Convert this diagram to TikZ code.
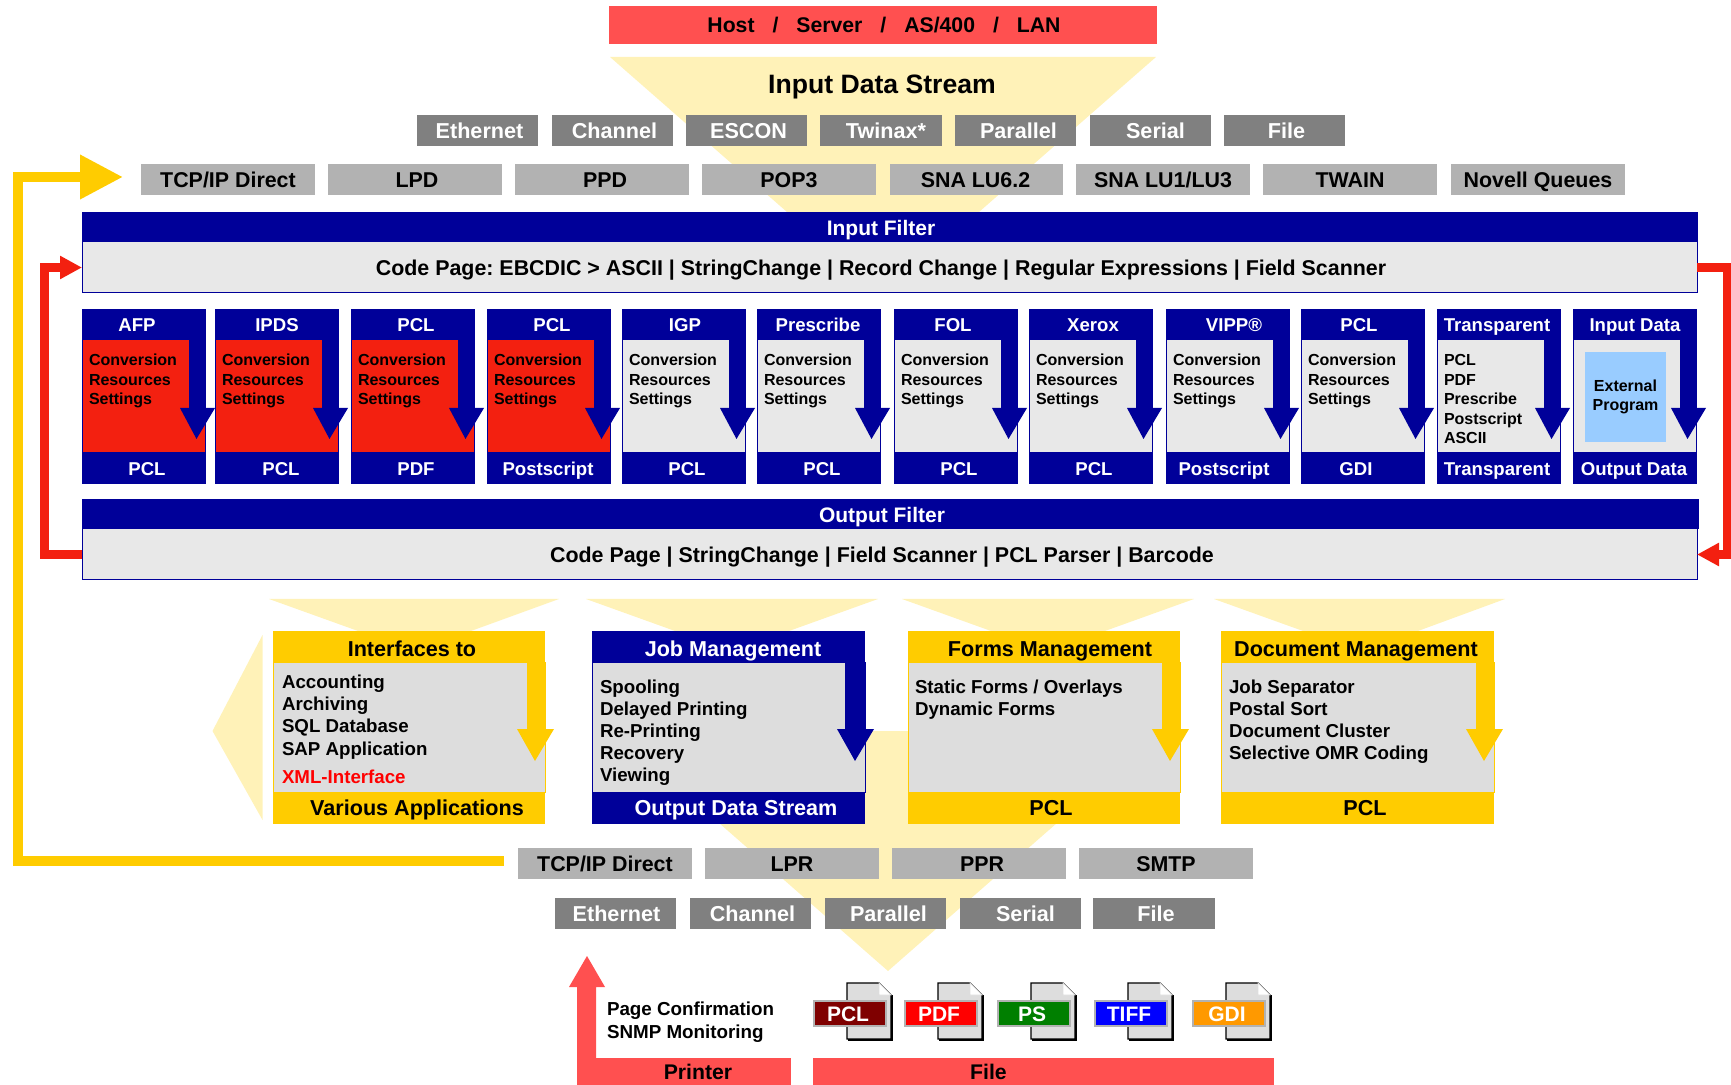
\documentclass[tikz,border=0pt]{standalone}
\usepackage{fontspec}
\setmainfont{Liberation Sans}
\usetikzlibrary{arrows.meta}
\frenchspacing
\definecolor{hostred}{HTML}{FF5050}
\definecolor{pale}{HTML}{FFF2B8}
\definecolor{dgrey}{HTML}{808080}
\definecolor{lgrey}{HTML}{B2B2B2}
\definecolor{navy}{HTML}{000099}
\definecolor{sun}{HTML}{FFCC00}
\definecolor{brick}{HTML}{F32010}
\definecolor{bodyg}{HTML}{E8E8E8}
\definecolor{cardg}{HTML}{DDDDDD}
\definecolor{sky}{HTML}{99CCFF}
\definecolor{icred}{HTML}{7F0000}
\definecolor{icgreen}{HTML}{007F00}
\definecolor{icorange}{HTML}{FF9900}
\newcommand\fsz[1]{\fontsize{#1}{#1}\selectfont\bfseries}
\newcommand\lead[2]{\fontsize{#1}{#2}\selectfont\bfseries}
% name x1 y1 x2 y2 style text
\newcommand\bx[7]{%
  \pgfmathsetlengthmacro\bw{(#4-#2)*0.5pt}%
  \pgfmathsetlengthmacro\bh{(#5-#3)*0.5pt}%
  \node[#6,minimum width=\bw,minimum height=\bh] (#1) at ({(#2+#4)/2},{(#3+#5)/2}) {#7};}
% id x1 titlecx title footcx foot bodycolor text
\newcommand\card[8]{%
  \bx{#1-top}{#2}{309}{#2+124}{340}{fill=navy}{}
  \bx{#1-foot}{#2}{453}{#2+124}{484}{fill=navy}{}
  \bx{#1-body}{#2+0.5}{340}{#2+122.5}{453}{fill=#7,draw=navy,line width=.5pt}{}
  \fill[navy] (#2+107,340) rectangle (#2+124,408);
  \fill[navy] (#2+98,408) -- (#2+133,408) -- (#2+114.5,439) -- cycle;
  \node[cardhead] (#1-title) at (#3,325) {#4};
  \node[cardhead] (#1-out) at (#5,468.5) {#6};
  \node[cardtext] (#1-text) at (#2+7,381) {#8};}
% id x1 x2 colour textcolour title cx foot cx
\newcommand\bcard[9]{%
  \bx{#1-top}{#2}{631}{#3}{663}{fill=#4}{}
  \bx{#1-foot}{#2}{792}{#3}{824}{fill=#4}{}
  \bx{#1-body}{#2+0.5}{663}{#3-0.5}{792}{fill=cardg,draw=#4,line width=.5pt}{}
  \fill[#4] (#3-18,663) rectangle (#3,729);
  \fill[#4] (#3-28,729) -- (#3+9,729) -- (#3-10,761) -- cycle;
  \node[bigtitle,text=#5] (#1-title) at (#7,649) {#6};
  \node[bigtitle,text=#5] (#1-out) at (#9,808) {#8};}
% id labelx colour text
\newcommand\docicon[4]{%
  \filldraw[fill=cardg,draw=black,line width=.6pt] (#2+33,983) -- (#2+65,983) -- (#2+77,995) -- (#2+77,1039) -- (#2+33,1039) -- cycle;
  \draw[black,line width=1.2pt] (#2+78,995) -- (#2+78,1040) -- (#2+34,1040);
  \filldraw[fill=white,draw=cardg,line width=.3pt] (#2+65,983) -- (#2+77,995) -- (#2+65,995) -- cycle;
  \bx{#1}{#2+1}{1001}{#2+71}{1026}{fill=#3,draw=lgrey,line width=1pt,text=white,font=\fsz{10.5},text height=7.5pt,text depth=0pt}{\hspace{-2pt}#4}}
\tikzset{
  every node/.style={inner sep=0pt,outer sep=0pt},
  dark/.style={fill=dgrey,text=white,font=\fsz{10.8},text height=7.7pt,text depth=0pt},
  light/.style={fill=lgrey,text=black,font=\fsz{10.7},text height=7.7pt,text depth=0pt},
  flowbody/.style={fill=bodyg,draw=navy,line width=.5pt},
  bandtext/.style={text=white,font=\fsz{10.5},text height=7.5pt,text depth=0pt},
  mainline/.style={text=black,font=\fsz{10.7},text height=7.7pt,text depth=0pt},
  cardhead/.style={text=white,font=\fsz{9.3},text height=6.7pt,text depth=0pt},
  cardtext/.style={anchor=west,align=left,text=black,font=\lead{8}{9.8}},
  bigtitle/.style={font=\fsz{10.8},text height=7.8pt,text depth=0pt},
  biglist/.style={anchor=west,align=left,text=black,font=\lead{9.35}{11}},
  redbar/.style={fill=hostred,text=black,font=\fsz{10.6},text height=7.6pt,text depth=0pt},
  yellowflow/.style={draw=sun,line width=5pt,-{Triangle[length=21.5pt,width=21pt]},shorten >=9pt,shorten <=7pt},
  redflow/.style={draw=brick,line width=4.2pt,-{Triangle[length=11pt,width=11pt]}},
}
\begin{document}
\begin{tikzpicture}[x=.5pt,y=-.5pt]
\useasboundingbox (0,0) rectangle (1731,1085);
% pale funnels
\fill[pale] (610,57) -- (1156,57) -- (979,212) -- (787,212) -- cycle;
\fill[pale] (269,599) -- (559,599) -- (471,631) -- (358,631) -- cycle;
\fill[pale] (586,599) -- (878,599) -- (789,631) -- (675,631) -- cycle;
\fill[pale] (902,599) -- (1194,599) -- (1105,631) -- (991,631) -- cycle;
\fill[pale] (1214,599) -- (1505,599) -- (1418,631) -- (1303,631) -- cycle;
\fill[pale] (212.5,731) -- (262.5,635) -- (262.5,820) -- cycle;
\fill[pale] (614,731) -- (1162,731) -- (888,971) -- cycle;
% host
\bx{host}{609}{6}{1157}{44}{redbar}{\hspace{1pt}Host\hspace{9pt}/\hspace{9pt}Server\hspace{9pt}/\hspace{9pt}AS/400\hspace{9pt}/\hspace{9pt}LAN}
\node[text=black,font=\fsz{13.3},text height=9.6pt,text depth=0pt] (instream) at (882,84) {Input Data Stream};
% row 1
\bx{eth1}{417}{115}{538}{146}{dark}{\hspace{2pt}Ethernet}
\bx{cha1}{552}{115}{673}{146}{dark}{\hspace{2pt}Channel}
\bx{esc1}{686}{115}{807}{146}{dark}{\hspace{2pt}ESCON}
\bx{twx1}{820}{115}{942}{146}{dark}{\hspace{5pt}Twinax*}
\bx{par1}{955}{115}{1076}{146}{dark}{\hspace{3pt}Parallel}
\bx{ser1}{1090}{115}{1211}{146}{dark}{\hspace{5pt}Serial}
\bx{fil1}{1224}{115}{1345}{146}{dark}{\hspace{2pt}File}
% row 2
\bx{tcpin}{141}{164}{315}{195}{light}{TCP/IP Direct}
\bx{lpd}{328}{164}{502}{195}{light}{\hspace{2pt}LPD}
\bx{ppd}{515}{164}{689}{195}{light}{\hspace{3pt}PPD}
\bx{pop}{702}{164}{876}{195}{light}{POP3}
\bx{sna6}{890}{164}{1063}{195}{light}{\hspace{-1pt}SNA LU6.2}
\bx{sna1}{1076}{164}{1250}{195}{light}{SNA LU1/LU3}
\bx{twain}{1263}{164}{1437}{195}{light}{TWAIN}
\bx{novell}{1451}{164}{1625}{195}{light}{Novell Queues}
% filters
\bx{inhead}{82}{212}{1698}{242}{fill=navy}{}
\bx{inputbox}{82}{242}{1697}{293}{flowbody}{}
\node[bandtext] (intitle) at (881,228) {Input Filter};
\node[mainline] (inline) at (881,268) {Code Page: EBCDIC > ASCII | StringChange | Record Change | Regular Expressions | Field Scanner};
\bx{outhead}{82}{499}{1699}{529}{fill=navy}{}
\bx{outputbox}{82}{529}{1697}{580}{flowbody}{}
\node[bandtext] (outtitle) at (882,515.5) {Output Filter};
\node[mainline] (outline) at (882,555) {Code Page | StringChange | Field Scanner | PCL Parser | Barcode};
% conversion cards
\def\crs{Conversion\\Resources\\Settings}
\card{afp}{82}{137}{AFP}{147}{PCL}{brick}{\crs}
\card{ipds}{215}{277}{IPDS}{281}{PCL}{brick}{\crs}
\card{pcla}{351}{416}{PCL}{416}{PDF}{brick}{\crs}
\card{pclb}{487}{552}{PCL}{548}{Postscript}{brick}{\crs}
\card{igp}{622}{685}{IGP}{687}{PCL}{bodyg}{\crs}
\card{pres}{757}{818}{Prescribe}{822}{PCL}{bodyg}{\crs}
\card{fol}{894}{953}{FOL}{959}{PCL}{bodyg}{\crs}
\card{xrx}{1029}{1093}{Xerox}{1094}{PCL}{bodyg}{\crs}
\card{vipp}{1166}{1234}{VIPP®}{1224}{Postscript}{bodyg}{\crs}
\card{pclc}{1301}{1359}{PCL}{1356}{GDI}{bodyg}{\crs}
\card{trans}{1437}{1497}{Transparent}{1497}{Transparent}{bodyg}{}
\node[cardtext,font=\lead{8}{9.75}] (translist) at (1444,399) {PCL\\PDF\\Prescribe\\Postscript\\ASCII};
\card{ext}{1573}{1635}{Input Data}{1634}{Output Data}{bodyg}{}
\bx{extprog}{1585}{352}{1666}{442}{fill=sky,align=center,font=\lead{8}{9.8}}{External\\Program}
% lower cards
\bcard{ifc}{273}{545}{sun}{black}{Interfaces to}{412}{Various Applications}{417}
\node[biglist] (ifclist) at (282,717) {Accounting\\[.1pt]Archiving\\[.2pt]SQL Database\\[.2pt]SAP Application};
\node[anchor=west,text=red,font=\fsz{9.35}] (xml) at (282,777) {XML-Interface};
\bcard{job}{592}{865}{navy}{white}{Job Management}{733}{Output Data Stream}{736}
\fill[navy] (845,663) rectangle (848,729);
\node[biglist] (joblist) at (600,733) {Spooling\\Delayed Printing\\Re-Printing\\Recovery\\Viewing};
\bcard{frm}{908}{1180}{sun}{black}{Forms Management}{1050}{PCL}{1051}
\node[biglist] (frmlist) at (915,700) {Static Forms / Overlays\\Dynamic Forms};
\bcard{doc}{1221}{1494}{sun}{black}{Document Management}{1356}{PCL}{1365}
\node[biglist] (doclist) at (1229,722) {Job Separator\\Postal Sort\\Document Cluster\\Selective OMR Coding};
% row 3
\bx{tcpout}{518}{848}{692}{879}{light}{TCP/IP Direct}
\bx{lpr}{705}{848}{879}{879}{light}{LPR}
\bx{ppr}{892}{848}{1066}{879}{light}{\hspace{3pt}PPR}
\bx{smtp}{1079}{848}{1253}{879}{light}{SMTP}
% row 4
\bx{eth2}{555}{898}{676}{929}{dark}{\hspace{1pt}Ethernet}
\bx{cha2}{690}{898}{811}{929}{dark}{\hspace{2pt}Channel}
\bx{par2}{825}{898}{946}{929}{dark}{\hspace{3pt}Parallel}
\bx{ser2}{960}{898}{1081}{929}{dark}{\hspace{5pt}Serial}
\bx{fil2}{1093}{898}{1215}{929}{dark}{\hspace{2pt}File}
% bottom
\fill[hostred] (577,1085) -- (577,987) -- (569,987) -- (587,956) -- (605,987) -- (596,987) -- (596,1085) -- cycle;
\bx{printerbar}{577}{1058}{791}{1085}{redbar}{\hspace{14pt}Printer}
\bx{filebar}{813}{1058}{1274}{1085}{redbar}{\hspace{-55pt}File}
\node[anchor=west,align=left,text=black,font=\lead{9.4}{11.5}] (confirm) at (607,1022) {Page Confirmation\\SNMP Monitoring};
\docicon{iconpcl}{814}{icred}{PCL}
\docicon{iconpdf}{905}{red}{PDF}
\docicon{iconps}{998}{icgreen}{PS}
\docicon{icontiff}{1095}{blue}{TIFF}
\docicon{icongdi}{1193}{icorange}{GDI}
% feedback connectors
\coordinate (yelbend) at (18,500);
\coordinate (redleft) at (44.5,400);
\coordinate (redright) at (1727.5,400);
\draw[yellowflow] ([yshift=1.5pt]tcpout.west) -| (yelbend) |- ([yshift=1.25pt]tcpin.west);
\draw[redflow] (outputbox.west) -| (redleft) |- (inputbox.west);
\draw[redflow] (inputbox.east) -| (redright) |- (outputbox.east);
\end{tikzpicture}
\end{document}
